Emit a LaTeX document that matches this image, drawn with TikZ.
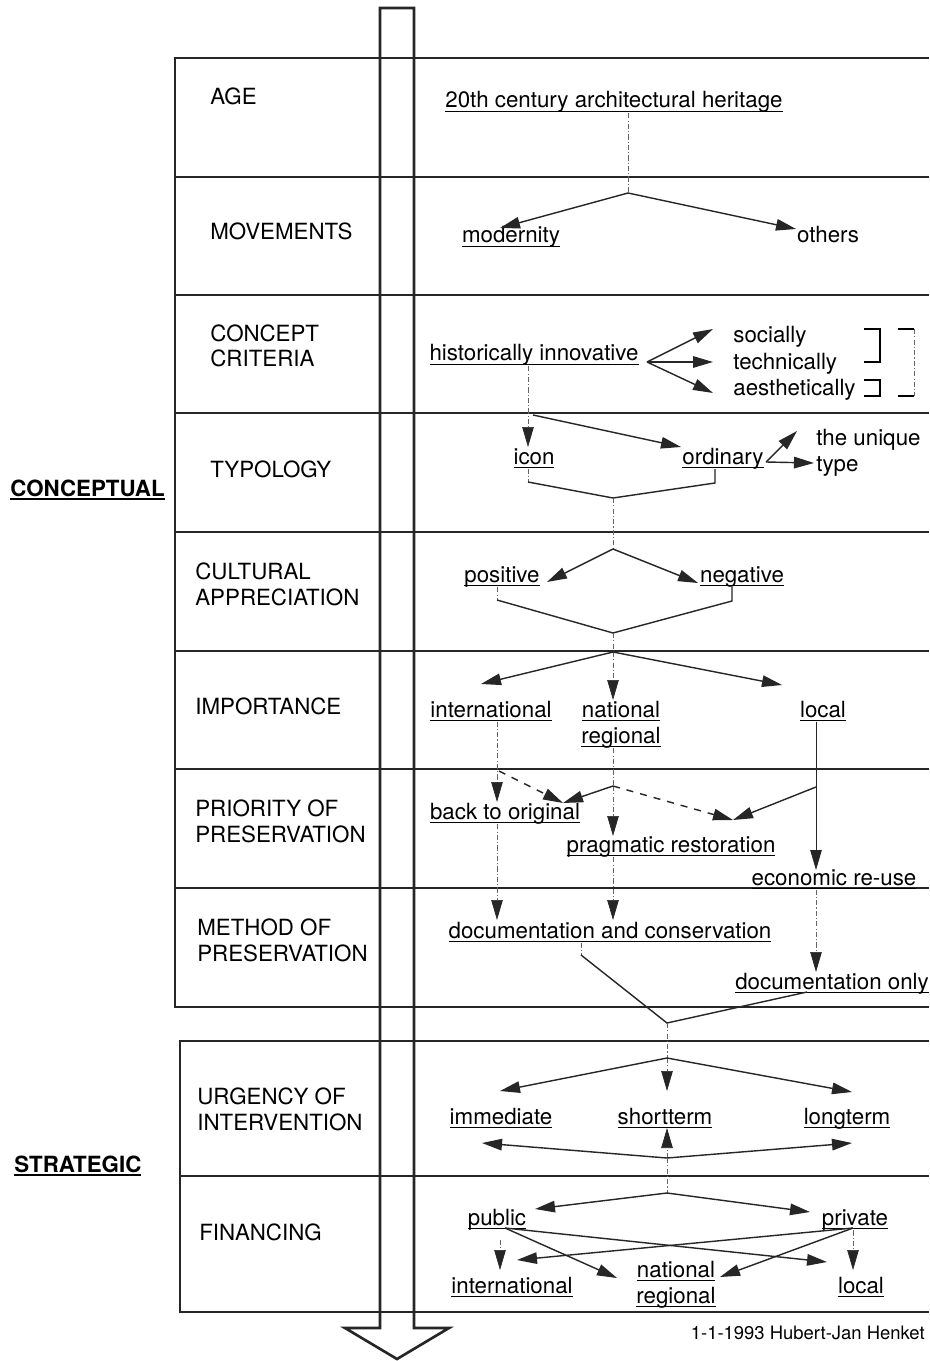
\documentclass[tikz,border=0pt]{standalone}
\usepackage{fontspec}
\setmainfont{TeX Gyre Heros}
\usetikzlibrary{arrows.meta}

\newcommand{\ulin}[2][0.6pt]{\setbox0=\hbox{#2}\rlap{\rule[-2.4pt]{\wd0}{#1}}\box0}

\begin{document}
\begin{tikzpicture}[x=0.02cm,y=-0.02cm,
  every node/.style={inner sep=0pt,font=\fontsize{12.7}{14.7}\selectfont},
  rowlabel/.style={anchor=base west,align=left},
  item/.style={anchor=base},
  frame/.style={draw=black!85,line width=1.5pt},
  link/.style={draw=black!85,line width=0.8pt},
  flow/.style={draw=black!85,line width=0.8pt,-{Triangle[length=0.4cm,width=0.23cm]}},
  trace/.style={draw=black!60,line width=0.4pt,dash pattern=on 3pt off 1.2pt on 0.6pt off 1.2pt},
  tracearrow/.style={trace,-{Triangle[length=0.4cm,width=0.23cm,color=black!85]}}]

\fill[white] (0,0) rectangle (929,1361);
\useasboundingbox (0,0) rectangle (929,1361);

% table and arrow
\draw[frame] (929,58) -- (175,58) -- (175,1007) -- (929,1007);
\draw[frame] (175,177) -- (929,177) (175,295) -- (929,295) (175,413) -- (929,413)
  (175,532) -- (929,532) (175,651) -- (929,651) (175,769) -- (929,769) (175,888) -- (929,888);
\draw[frame] (929,1041) -- (180,1041) -- (180,1312) -- (929,1312);
\draw[frame] (180,1176) -- (929,1176);
\draw[frame,line join=miter] (380,1328) -- (380,8) -- (414,8) -- (414,1328) -- (449,1328) -- (397,1359) -- (345,1328) -- cycle;

\node[anchor=base west,font=\fontsize{12.7}{14.7}\selectfont\bfseries] (conceptual) at (10,496) {\ulin[1pt]{CONCEPTUAL}};
\node[anchor=base west,font=\fontsize{12.7}{14.7}\selectfont\bfseries] (strategic) at (14,1172) {\ulin[1pt]{STRATEGIC}};

% multi-line nodes sit on the baseline of their last line
\node[rowlabel] (age) at (210,105) {AGE};
\node[rowlabel] (movements) at (210,240) {MOVEMENTS};
\node[rowlabel] (criteria) at (210,367) {CONCEPT\\CRITERIA};
\node[rowlabel] (typology) at (210,477) {TYPOLOGY};
\node[rowlabel] (cultural) at (195,605) {CULTURAL\\APPRECIATION};
\node[rowlabel] (importance) at (195,714) {IMPORTANCE};
\node[rowlabel] (priority) at (195,842) {PRIORITY OF\\PRESERVATION};
\node[rowlabel] (method) at (197,961) {METHOD OF\\PRESERVATION};
\node[rowlabel] (urgency) at (197,1130) {URGENCY OF\\INTERVENTION};
\node[rowlabel] (financing) at (199,1240) {FINANCING};

\node[item] (heritage) at (614,108) {\ulin{20th century architectural heritage}};
\node[item] (modern) at (511,243) {\ulin{modernity}};
\node[item] (others) at (828,243) {others};
\node[item] (histinn) at (534,361) {\ulin{historically innovative}};
\node[rowlabel] (social) at (733,343) {socially};
\node[rowlabel] (techn) at (733,370) {technically};
\node[rowlabel] (aesth) at (733,396) {aesthetically};
\node[item] (icon) at (534,464) {\ulin{icon}};
\node[item] (ordin) at (723,464) {\ulin{ordinary}};
\node[rowlabel] (unique) at (816,471) {the unique\\type};
\node[item] (posit) at (502,582) {\ulin{positive}};
\node[item] (negat) at (742,582) {\ulin{negative}};
\node[item] (intl) at (491,717) {\ulin{international}};
\node[item,align=center] (natl) at (621,743) {\ulin{national}\\\ulin{regional}};
\node[item] (loc) at (823,717) {\ulin{local}};
\node[item] (backorig) at (505,819) {\ulin{back to original}};
\node[item] (pragm) at (671,852) {\ulin{pragmatic restoration}};
\node[item] (reuse) at (834,885) {\ulin{economic re-use}};
\node[item] (docons) at (610,938) {\ulin{documentation and conservation}};
\node[item] (doconly) at (832,989) {\ulin{documentation only}};
\node[item] (immed) at (501,1124) {\ulin{immediate}};
\node[item] (shortt) at (665,1124) {\ulin{shortterm}};
\node[item] (longt) at (847,1124) {\ulin{longterm}};
\node[item] (public) at (497,1225) {\ulin{public}};
\node[item] (private) at (855,1225) {\ulin{private}};
\node[item] (fintl) at (512,1293) {\ulin{international}};
\node[item,align=center] (fnatl) at (676,1303) {\ulin{national}\\\ulin{regional}};
\node[item] (floc) at (861,1293) {\ulin{local}};
\node[anchor=base east,font=\fontsize{10.5}{12}\selectfont] (credit) at (925,1339) {1-1-1993 Hubert-Jan Henket};

% age -> movements
\coordinate (fork1) at (628,193);
\coordinate (to-modern) at (500,228);
\coordinate (to-others) at (796,229);
\draw[trace] (heritage.south -| fork1) -- (fork1);
\draw[flow] (fork1) -- (to-modern);
\draw[flow] (fork1) -- (to-others);

% criteria
\coordinate (fork2) at (647,362);
\coordinate (to-social) at (713,329);
\coordinate (to-techn) at (713,362);
\coordinate (to-aesth) at (713,393);
\draw[flow] (fork2) -- (to-social);
\draw[flow] (fork2) -- (to-techn);
\draw[flow] (fork2) -- (to-aesth);
\draw[line width=0.7pt] (864,329) -- (880,329) -- (880,362) -- (864,362);
\draw[line width=0.7pt] (864,380) -- (880,380) -- (880,396) -- (864,396);
\draw[line width=0.7pt] (898,329) -- (914,329) (898,396) -- (914,396);
\draw[trace] (914,329) -- (914,396);

% typology
\coordinate (to-icon) at (528,447);
\coordinate (fork3) at (533,415);
\coordinate (to-ordin) at (681,447);
\coordinate (fork4) at (766,462);
\coordinate (to-unique) at (797,431);
\coordinate (to-type) at (814,463);
\draw[tracearrow] (histinn.south -| to-icon) -- (to-icon);
\draw[flow] (fork3) -- (to-ordin);
\draw[flow] (fork4) -- (to-unique);
\draw[flow] (fork4) -- (to-type);
\coordinate (icon-stub) at (528,482);
\coordinate (ordin-stub) at (715,483);
\coordinate (join1) at (613,498);
\draw[trace] (icon.south -| icon-stub) -- (icon-stub);
\draw[link] (icon-stub) -- (join1) -- (ordin-stub) -- (ordin.south -| ordin-stub);

% cultural appreciation
\coordinate (fork5) at (613,549);
\coordinate (to-posit) at (547,582);
\coordinate (to-negat) at (698,583);
\draw[trace] (join1) -- (fork5);
\draw[flow] (fork5) -- (to-posit);
\draw[flow] (fork5) -- (to-negat);
\coordinate (posit-stub) at (497,600);
\coordinate (negat-stub) at (732,601);
\coordinate (join2) at (613,633);
\draw[trace] (posit.south -| posit-stub) -- (posit-stub);
\draw[link] (posit-stub) -- (join2) -- (negat-stub) -- (negat.south -| negat-stub);

% importance
\coordinate (fork6) at (613,652);
\coordinate (to-intl) at (481,684);
\coordinate (to-natl) at (613,700);
\coordinate (to-loc) at (782,685);
\draw[trace] (join2) -- (fork6);
\draw[flow] (fork6) -- (to-intl);
\draw[tracearrow] (fork6) -- (to-natl);
\draw[flow] (fork6) -- (to-loc);

% priority
\coordinate (to-back) at (497,802);
\coordinate (fork7) at (499,771);
\coordinate (to-back2) at (563,803);
\coordinate (fork8) at (613,786);
\coordinate (to-pragm) at (613,836);
\coordinate (to-pragm2) at (733,820);
\coordinate (fork9) at (816,787);
\coordinate (to-reuse) at (816,870);
\draw[tracearrow] (intl.south -| to-back) -- (to-back);
\draw[flow,dash pattern=on 4pt off 4pt] (fork7) -- (to-back2);
\draw[trace] (natl.south -| fork8) -- (fork8);
\draw[tracearrow] (fork8) -- (to-pragm);
\draw[flow] (fork8) -- (to-back2);
\draw[flow,dash pattern=on 4pt off 4pt] (fork8) -- (to-pragm2);
\draw[link,line width=0.5pt] (loc.south -| fork9) -- (fork9);
\draw[flow,line width=0.5pt] (fork9) -- (to-reuse);
\draw[flow] (fork9) -- (to-pragm2);

% method
\coordinate (to-docons1) at (497,920);
\coordinate (to-docons2) at (613,920);
\coordinate (to-doconly) at (816,972);
\draw[tracearrow] (backorig.south -| to-docons1) -- (to-docons1);
\draw[tracearrow] (pragm.south -| to-docons2) -- (to-docons2);
\draw[tracearrow] (reuse.south -| to-doconly) -- (to-doconly);
\coordinate (docons-stub) at (581,955);
\coordinate (join3) at (667,1023);
\coordinate (doconly-stub) at (807,992);
\draw[trace] (docons.south -| docons-stub) -- (docons-stub);
\draw[link] (docons-stub) -- (join3) -- (doconly-stub);

% urgency
\coordinate (fork10) at (667,1058);
\coordinate (to-immed) at (500,1091);
\coordinate (to-short) at (667,1091);
\coordinate (to-long) at (852,1092);
\draw[trace] (join3) -- (fork10);
\draw[flow] (fork10) -- (to-immed);
\draw[tracearrow] (fork10) -- (to-short);
\draw[flow] (fork10) -- (to-long);
\coordinate (fork11) at (667,1158);
\coordinate (up-immed) at (482,1143);
\coordinate (up-short) at (667,1128);
\coordinate (up-long) at (852,1143);
\draw[flow] (fork11) -- (up-immed);
\draw[tracearrow] (fork11) -- (up-short);
\draw[flow] (fork11) -- (up-long);

% financing
\coordinate (fork12) at (667,1193);
\coordinate (to-public) at (535,1209);
\coordinate (to-private) at (810,1212);
\draw[trace] (fork11) -- (fork12);
\draw[flow] (fork12) -- (to-public);
\draw[flow] (fork12) -- (to-private);
\coordinate (pub-out) at (505,1228);
\coordinate (priv-out) at (853,1228);
\coordinate (pub-stub) at (500,1240);
\coordinate (to-fintl) at (500,1270);
\coordinate (to-floc) at (853,1270);
\draw[flow] (pub-out) -- (617,1278);
\draw[flow] (pub-out) -- (827,1262);
\draw[flow] (priv-out) -- (517,1260);
\draw[flow] (priv-out) -- (720,1277);
\draw[tracearrow] (pub-stub) -- (to-fintl);
\draw[tracearrow] (private.south -| to-floc) -- (to-floc);

\end{tikzpicture}
\end{document}
